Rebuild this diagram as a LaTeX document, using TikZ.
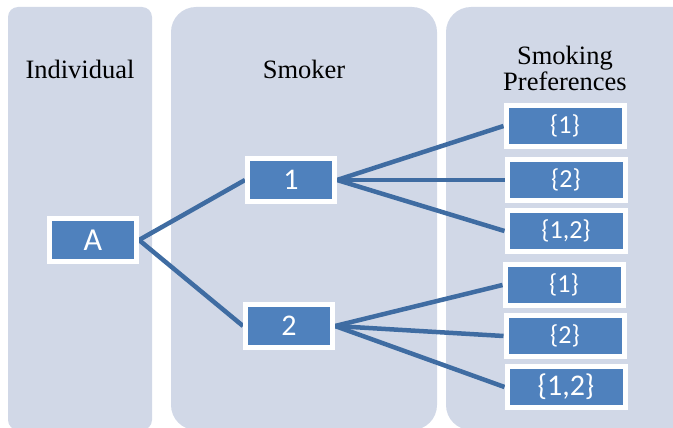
\documentclass[tikz,border=0pt]{standalone}
\usepackage{fontspec}
\setmainfont{Liberation Serif}
\newfontfamily\headfont{Liberation Serif}
\newfontfamily\boxfont{Carlito}
\usetikzlibrary{backgrounds}
\definecolor{panelfill}{RGB}{209,216,231}
\definecolor{boxfill}{RGB}{79,129,189}
\definecolor{linkcol}{RGB}{63,108,162}
\tikzset{
  panel/.style={fill=panelfill,draw=none},
  head/.style={anchor=base,align=center,font=\headfont\fontsize{26.5}{26}\selectfont},
  blk/.style={draw=white,line width=5pt,fill=boxfill,text=white,inner sep=0pt,
    font=\boxfont\fontsize{#1}{#1}\selectfont},
  smallblk/.style={blk=#1,minimum width=87pt,minimum height=43pt},
  prefblk/.style={blk=#1,minimum width=118pt,minimum height=41pt},
  link/.style={draw=linkcol,line width=4.5pt}
}
\begin{document}
\begin{tikzpicture}[x=1pt,y=-1pt]
\useasboundingbox (0,0) rectangle (673,428);
% column titles
\node[head] (tind) at (80,79) {Individual};
\node[head] (tsmk) at (304,79) {Smoker};
\node[head] (tpref) at (565,91) {Smoking\\Preferences};
% boxes
\node[smallblk=32] (A) at (93,240) {A};
\node[smallblk=30] (s1) at (291,180) {1};
\node[smallblk=30] (s2) at (289,326) {2};
\node[prefblk=26] (p11) at (565,126) {\{1\}};
\node[prefblk=26] (p12) at (566,180) {\{2\}};
\node[prefblk=26] (p13) at (566,231) {\{1,2\}};
\node[prefblk=26] (p21) at (564,285) {\{1\}};
\node[prefblk=26] (p22) at (565,336) {\{2\}};
\node[prefblk=30] (p23) at (566,387) {\{1,2\}};
\begin{pgfonlayer}{background}
\begin{scope}
\clip (0,0) rectangle (673,428);
\fill[panel,rounded corners=10pt] (8,7) rectangle (152,430);
\fill[panel,rounded corners=25pt] (171,7) rectangle (437,430);
\fill[panel,rounded corners=25pt] (446,7) rectangle (700,430);
\end{scope}
% links
\draw[link] (A.east) -- (s1.west);
\draw[link] (A.east) -- (s2.west);
\draw[link] (s1.east) -- (p11.west);
\draw[link] (s1.east) -- (p12.west);
\draw[link] (s1.east) -- (p13.west);
\draw[link] (s2.east) -- (p21.west);
\draw[link] (s2.east) -- (p22.west);
\draw[link] (s2.east) -- (p23.west);
\end{pgfonlayer}
\end{tikzpicture}
\end{document}
